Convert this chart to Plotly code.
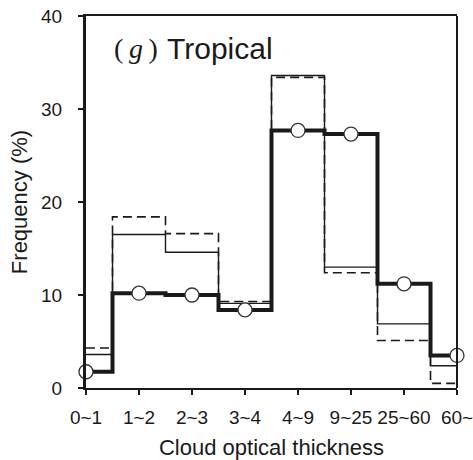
import plotly.graph_objects as go

categories = ["0~1", "1~2", "2~3", "3~4", "4~9", "9~25", "25~60", "60~"]
thick_vals = [1.75, 10.2, 10.0, 8.4, 27.7, 27.3, 11.2, 3.5]
thin_vals = [3.6, 16.5, 14.6, 9.1, 33.6, 13.0, 6.9, 2.4]
dash_vals = [4.3, 18.4, 16.6, 9.3, 33.4, 12.4, 5.1, 0.5]

xs = list(range(len(categories)))
ink = "#1a1a1a"

fig = go.Figure()
fig.add_trace(go.Scatter(x=xs, y=dash_vals, mode="lines", line_shape="hvh",
                         line=dict(color=ink, width=1.6, dash="9px,5px"), showlegend=False))
fig.add_trace(go.Scatter(x=xs, y=thin_vals, mode="lines", line_shape="hvh",
                         line=dict(color=ink, width=1.4), showlegend=False))
fig.add_trace(go.Scatter(x=xs, y=thick_vals, mode="lines", line_shape="hvh",
                         line=dict(color=ink, width=4), showlegend=False))
fig.add_trace(go.Scatter(x=xs, y=thick_vals, mode="markers",
                         marker=dict(size=14, color="white", line=dict(color="#333", width=1.3)),
                         showlegend=False, cliponaxis=False))

font = "Liberation Sans, Arial, sans-serif"
fig.update_layout(
    width=473, height=460,
    margin=dict(l=86, r=16, t=16, b=72, autoexpand=False),
    paper_bgcolor="white", plot_bgcolor="white",
    font=dict(family=font, color="#1a1a1a", size=19),
    xaxis=dict(range=[0, 7], tickvals=xs, ticktext=categories, showgrid=False, zeroline=False,
               showline=True, linecolor=ink, linewidth=2, mirror=True,
               ticks="outside", ticklen=5, tickwidth=2, tickcolor=ink,
               ticklabelstandoff=6, ticklabeloverflow="allow", automargin=False,
               title=dict(text="Cloud optical thickness", font=dict(size=22), standoff=22)),
    yaxis=dict(range=[0, 40], tickvals=[0, 10, 20, 30, 40], showgrid=False, zeroline=False,
               showline=True, linecolor=ink, linewidth=3,
               ticks="outside", ticklen=5, tickwidth=2, tickcolor=ink,
               ticklabelstandoff=12, automargin=False,
               title=dict(text="Frequency (%)", font=dict(size=22), standoff=8)),
)
fig.add_shape(type="line", xref="paper", yref="paper", x0=1, x1=1, y0=0, y1=1,
              line=dict(color=ink, width=2))
fig.add_annotation(xref="paper", yref="paper", x=(112 - 86) / 371.5, y=1 - (48 - 16) / 372,
                   xanchor="left", yanchor="middle", showarrow=False,
                   text="(&#8201;<i>g</i>&#8201;)", font=dict(family="Liberation Serif, Times New Roman, serif", size=28, color="#1a1a1a"))
fig.add_annotation(xref="paper", yref="paper", x=(165 - 86) / 371.5, y=1 - (48 - 16) / 372,
                   xanchor="left", yanchor="middle", showarrow=False,
                   text="Tropical", font=dict(family=font, size=30, color="#1a1a1a"))

fig.write_html("out.html")
